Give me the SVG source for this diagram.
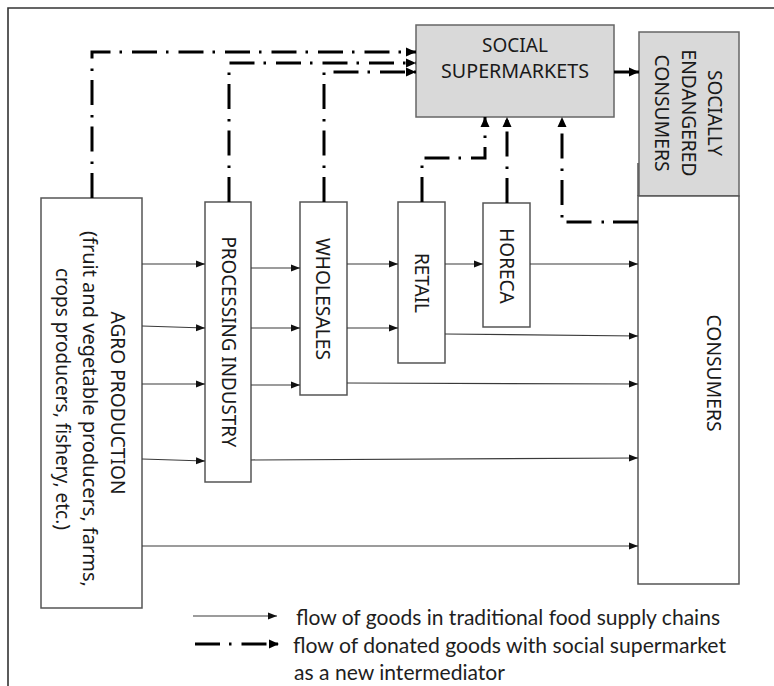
<svg xmlns="http://www.w3.org/2000/svg" width="774" height="686" viewBox="0 0 774 686">
<style>
.box{fill:#fff;stroke:#555;stroke-width:1.5}
.gbox{fill:#d9d9d9;stroke:#666;stroke-width:1.5}
.lbl{font-family:"Noto Sans","Open Sans","DejaVu Sans",sans-serif;font-size:19px;fill:#1a1a1a;text-anchor:middle;dominant-baseline:central}
.leg{font-family:Lato,"Open Sans",sans-serif;font-size:21px;fill:#1e1e1e}
.flow{fill:none;stroke:#3a3a3a;stroke-width:1.2;marker-end:url(#ah)}
.don{fill:none;stroke:#000;stroke-width:3;stroke-dasharray:25 9 2.5 10;marker-end:url(#ahd)}
</style>
<defs>
<marker id="ah" markerUnits="userSpaceOnUse" markerWidth="9" markerHeight="8" refX="9" refY="4" orient="auto"><path d="M0,0.5 L9,4 L0,7.5 z" fill="#111"/></marker>
<marker id="ahd" markerUnits="userSpaceOnUse" markerWidth="10" markerHeight="10" refX="10" refY="5" orient="auto"><path d="M0,0.5 L10,5 L0,9.5 z" fill="#000"/></marker>
</defs>
<rect width="774" height="686" fill="#fff"/>
<path d="M8,690 V8 H780" fill="none" stroke="#333" stroke-width="1.6"/>

<g id="agro">
<rect class="box" x="41" y="198" width="101" height="410"/>
<text class="lbl" transform="translate(118,403) rotate(90)" textLength="183" lengthAdjust="spacingAndGlyphs">AGRO PRODUCTION</text>
<text class="lbl" transform="translate(90,409) rotate(90)" textLength="356" lengthAdjust="spacingAndGlyphs">(fruit and vegetable producers, farms,</text>
<text class="lbl" transform="translate(63,399) rotate(90)" textLength="262" lengthAdjust="spacingAndGlyphs">crops producers, fishery, etc.)</text>
</g>
<g id="processing">
<rect class="box" x="205" y="202" width="46" height="280"/>
<text class="lbl" transform="translate(229,342) rotate(90)" textLength="211" lengthAdjust="spacingAndGlyphs">PROCESSING INDUSTRY</text>
</g>
<g id="wholesales">
<rect class="box" x="300" y="202" width="47" height="193"/>
<text class="lbl" transform="translate(323,299) rotate(90)" textLength="122" lengthAdjust="spacingAndGlyphs">WHOLESALES</text>
</g>
<g id="retail">
<rect class="box" x="398" y="202" width="47" height="161"/>
<text class="lbl" transform="translate(422,283) rotate(90)">RETAIL</text>
</g>
<g id="horeca">
<rect class="box" x="483" y="203" width="47" height="124"/>
<text class="lbl" transform="translate(507,266) rotate(90)">HORECA</text>
</g>
<g id="social-supermarkets">
<rect class="gbox" x="416" y="25" width="198" height="92"/>
<text class="lbl" x="515" y="45">SOCIAL</text>
<text class="lbl" x="515" y="71" textLength="148" lengthAdjust="spacingAndGlyphs">SUPERMARKETS</text>
</g>
<g id="socially-endangered">
<rect class="gbox" x="639" y="32" width="100" height="164"/>
<text class="lbl" transform="translate(715,113) rotate(90)">SOCIALLY</text>
<text class="lbl" transform="translate(689,113) rotate(90)" textLength="127" lengthAdjust="spacingAndGlyphs">ENDANGERED</text>
<text class="lbl" transform="translate(662,113) rotate(90)" textLength="117" lengthAdjust="spacingAndGlyphs">CONSUMERS</text>
</g>
<g id="consumers">
<rect class="box" x="638" y="196" width="101" height="388"/>
<path d="M638,163 V196" stroke="#555" stroke-width="1.5"/>
<text class="lbl" transform="translate(714,373) rotate(90)" textLength="117" lengthAdjust="spacingAndGlyphs">CONSUMERS</text>
</g>

<g id="connectors">
<path class="flow" d="M142,264 H205"/>
<path class="flow" d="M142,326 L205,328"/>
<path class="flow" d="M142,384 H205"/>
<path class="flow" d="M142,459 L205,461"/>
<path class="flow" d="M142,546 H638"/>
<path class="flow" d="M251,268 H300"/>
<path class="flow" d="M251,328 H300"/>
<path class="flow" d="M251,385 H300"/>
<path class="flow" d="M251,460 L638,458"/>
<path class="flow" d="M347,264 H398"/>
<path class="flow" d="M347,328 H398"/>
<path class="flow" d="M347,383 L638,384"/>
<path class="flow" d="M445,264 H483"/>
<path class="flow" d="M445,334 L638,336"/>
<path class="flow" d="M530,264 H638"/>

<path class="don" d="M92,198 V52 H416"/>
<path class="don" d="M229,202 V63 H416"/>
<path class="don" d="M324,202 V72 H416"/>
<path class="don" d="M422,202 V158 H485 V117"/>
<path class="don" d="M507,203 V117"/>
<path class="don" d="M638,222 H562 V117"/>
<path class="don" d="M614,72 H639"/>
</g>

<g id="legend">
<path class="flow" d="M193,616 H277"/>
<path class="don" d="M195,644 H279" stroke-dasharray="22 13 2.5 10"/>
<text class="leg" x="296" y="625" textLength="424" lengthAdjust="spacingAndGlyphs">flow of goods in traditional food supply chains</text>
<text class="leg" x="293" y="653" textLength="433" lengthAdjust="spacingAndGlyphs">flow of donated goods with social supermarket</text>
<text class="leg" x="294" y="680" textLength="211" lengthAdjust="spacingAndGlyphs">as a new intermediator</text>
</g>
</svg>
